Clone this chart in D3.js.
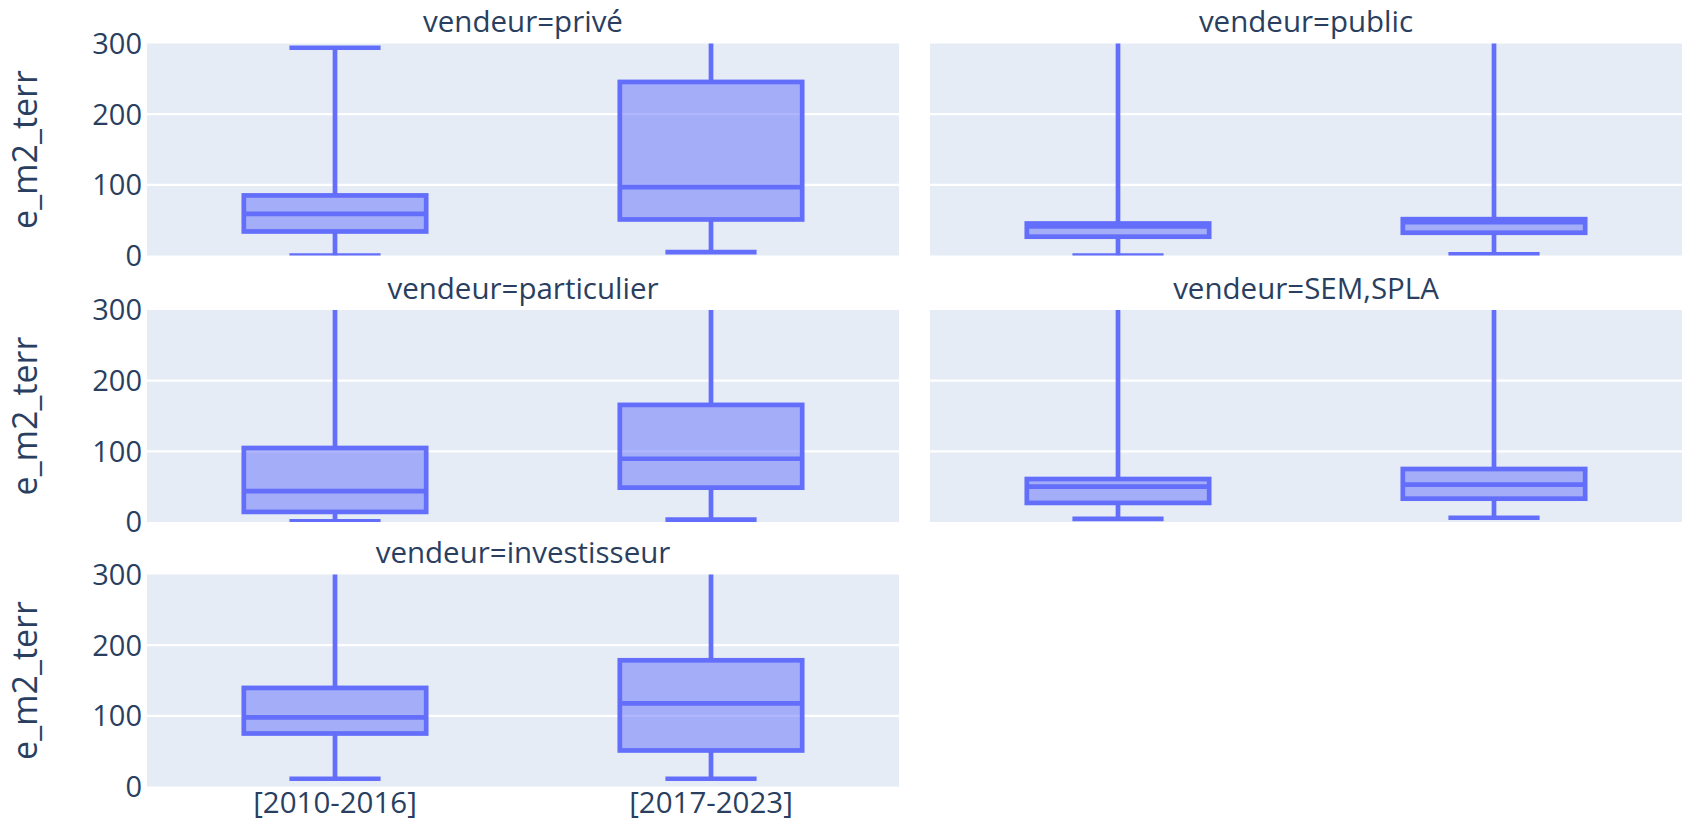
<!DOCTYPE html>
<html>
<head>
<meta charset="utf-8">
<script src="https://cdn.jsdelivr.net/npm/d3@7"></script>
<style>
    body { margin: 0; background: #ffffff; }
    #visualization { width: 1682px; height: 822px; }
</style>
</head>
<body>
<div id="visualization"></div>
<script>
// seller groups, one facet each (wrapped on two columns)
const vendeurs = ["privé", "public", "particulier", "SEM,SPLA", "investisseur"];

// the two periods on the x axis
const periodes = ["[2010-2016]", "[2017-2023]"];

// box statistics, one pair [2010-2016, 2017-2023] per seller
const lowerFence = [[0, 4.7], [0, 1.5], [1, 3.3], [4.5, 6], [11, 11]];
const q1Values = [[34, 51], [26.6, 32.2], [14.3, 48.6], [27, 33], [75, 51]];
const medianValues = [[59, 96.8], [41.1, 47.2], [43.8, 89.5], [50, 53], [97.7, 117.7]];
const q3Values = [[85, 245.6], [45.3, 51.4], [104.7, 165.7], [60.8, 75], [139.5, 178.6]];
const upperFence = [[294, 520], [640, 690], [600, 660], [720, 780], [560, 610]];

// y ticks
const yTicks = [0, 100, 200, 300];

/**
 * drawFacets
 *
 * Purpose: draws the faceted box plots (one panel per seller type).
 *
 * @param {string} containerId - id of the element that gets the svg
 */
function drawFacets(containerId){
    const fullWidth = 1682;
    const fullHeight = 822;

    // panel grid (plotly style facet_col_wrap=2)
    const colLeft = [147, 930];
    const colWidth = 752;
    const rowTop = [43.5, 310, 574.5];
    const rowHeight = 212;

    const font = "'Open Sans', verdana, arial, sans-serif";
    const textColor = "#2a3f5f";
    const boxColor = "#636efa";
    const lineWidth = 4.7;

    const svg = d3.select("#" + containerId)
                    .append("svg")
                        .attr("width", fullWidth)
                        .attr("height", fullHeight);

    const xScale = d3.scaleBand()
                    .domain(periodes)
                    .range([0, colWidth]);

    const yScale = d3.scaleLinear()
                    .domain([0, 300])
                    .range([rowHeight, 0]);

    const boxWidth = xScale.bandwidth() * 0.485;
    const capWidth = boxWidth * 0.5;

    vendeurs.forEach((vendeur, i) => {
        const col = i % 2;
        const row = Math.floor(i / 2);
        const left = colLeft[col];
        const top = rowTop[row];

        const panel = svg.append("g")
                        .attr("transform", "translate(" + left + "," + top + ")");

        // clip so whiskers above 300 are cut at the top
        panel.append("clipPath")
            .attr("id", "clip" + i)
            .append("rect")
                .attr("width", colWidth)
                .attr("height", rowHeight);

        panel.append("rect")
            .attr("width", colWidth)
            .attr("height", rowHeight)
            .attr("fill", "#e5ecf6");

        // grid lines
        panel.selectAll(".grid")
            .data(yTicks.filter(t => t > 0 && t < 300))
            .enter()
            .append("line")
                .attr("x1", 0)
                .attr("x2", colWidth)
                .attr("y1", d => yScale(d))
                .attr("y2", d => yScale(d))
                .attr("stroke", "#ffffff")
                .attr("stroke-width", 2.3);

        // facet title
        panel.append("text")
            .attr("x", colWidth / 2)
            .attr("y", -11.5)
            .attr("text-anchor", "middle")
            .attr("font-family", font)
            .attr("font-size", "29.5px")
            .attr("fill", textColor)
            .text("vendeur=" + vendeur);

        // y axis labels and title, only on the first column
        if (col === 0){
            panel.selectAll(".ytick")
                .data(yTicks)
                .enter()
                .append("text")
                    .attr("x", -5)
                    .attr("y", d => yScale(d))
                    .attr("dy", "0.36em")
                    .attr("text-anchor", "end")
                    .attr("font-family", font)
                    .attr("font-size", "29px")
                    .attr("fill", textColor)
                    .text(d => d);

            panel.append("text")
                .attr("transform", "rotate(-90)")
                .attr("x", -rowHeight / 2)
                .attr("y", -left + 25)
                .attr("dy", "0.36em")
                .attr("text-anchor", "middle")
                .attr("font-family", font)
                .attr("font-size", "34px")
                .attr("fill", textColor)
                .text("e_m2_terr");
        }

        // x labels only under the bottom row
        if (row === 2){
            panel.selectAll(".xtick")
                .data(periodes)
                .enter()
                .append("text")
                    .attr("x", d => xScale(d) + xScale.bandwidth() / 2)
                    .attr("y", rowHeight + 26.5)
                    .attr("text-anchor", "middle")
                    .attr("font-family", font)
                    .attr("font-size", "29.5px")
                    .attr("fill", textColor)
                    .text(d => d);
        }

        // the boxes
        const stats = periodes.map((p, j) => ({
            periode: p,
            low: lowerFence[i][j],
            q1: q1Values[i][j],
            med: medianValues[i][j],
            q3: q3Values[i][j],
            high: upperFence[i][j]
        }));

        const boxes = panel.append("g")
                        .attr("clip-path", "url(#clip" + i + ")")
                        .selectAll("g")
                        .data(stats)
                        .enter()
                        .append("g")
                            .attr("transform", d => "translate(" + (xScale(d.periode) + xScale.bandwidth() / 2) + ",0)");

        // whisker stems
        boxes.append("line")
            .attr("x1", 0).attr("x2", 0)
            .attr("y1", d => yScale(d.high))
            .attr("y2", d => yScale(d.q3))
            .attr("stroke", boxColor)
            .attr("stroke-width", lineWidth);
        boxes.append("line")
            .attr("x1", 0).attr("x2", 0)
            .attr("y1", d => yScale(d.q1))
            .attr("y2", d => yScale(d.low))
            .attr("stroke", boxColor)
            .attr("stroke-width", lineWidth);

        // whisker caps
        boxes.append("line")
            .attr("x1", -capWidth / 2).attr("x2", capWidth / 2)
            .attr("y1", d => yScale(d.high))
            .attr("y2", d => yScale(d.high))
            .attr("stroke", boxColor)
            .attr("stroke-width", lineWidth);
        boxes.append("line")
            .attr("x1", -capWidth / 2).attr("x2", capWidth / 2)
            .attr("y1", d => yScale(d.low))
            .attr("y2", d => yScale(d.low))
            .attr("stroke", boxColor)
            .attr("stroke-width", lineWidth);

        // box body
        boxes.append("rect")
            .attr("x", -boxWidth / 2)
            .attr("width", boxWidth)
            .attr("y", d => yScale(d.q3))
            .attr("height", d => yScale(d.q1) - yScale(d.q3))
            .attr("fill", "rgba(99,110,250,0.5)")
            .attr("stroke", boxColor)
            .attr("stroke-width", lineWidth);

        // median
        boxes.append("line")
            .attr("x1", -boxWidth / 2).attr("x2", boxWidth / 2)
            .attr("y1", d => yScale(d.med))
            .attr("y2", d => yScale(d.med))
            .attr("stroke", boxColor)
            .attr("stroke-width", lineWidth);
    });
}

drawFacets("visualization");
</script>
</body>
</html>
